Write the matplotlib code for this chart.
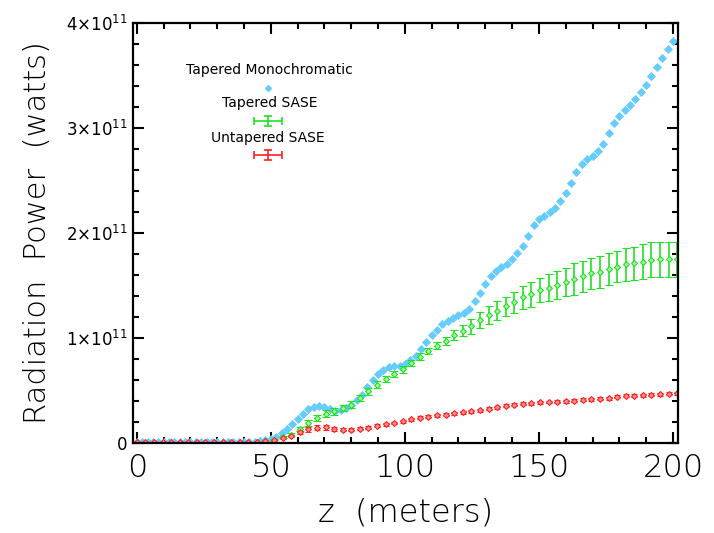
import numpy as np
import matplotlib
matplotlib.use("Agg")
from matplotlib import pyplot as plt
from matplotlib.ticker import MultipleLocator, FuncFormatter

# tapered, monochromatic seed: power every 2 m along the undulator (units of 1e11 W)
z_mono = np.arange(0, 201, 2)
p_mono = [0.005, 0.005, 0.005, 0.005, 0.005, 0.005, 0.005, 0.005, 0.005, 0.005,
          0.005, 0.005, 0.005, 0.005, 0.005, 0.005, 0.005, 0.005, 0.005, 0.005,
          0.006, 0.008, 0.010, 0.015, 0.025, 0.040, 0.060, 0.090, 0.130, 0.180,
          0.230, 0.280, 0.320, 0.345, 0.355, 0.345, 0.320, 0.305, 0.310, 0.335,
          0.365, 0.410, 0.460, 0.530, 0.600, 0.655, 0.695, 0.720, 0.730, 0.735,
          0.750, 0.785, 0.830, 0.890, 0.960, 1.030, 1.080, 1.130, 1.165, 1.190,
          1.215, 1.240, 1.280, 1.350, 1.430, 1.510, 1.590, 1.640, 1.675, 1.705,
          1.750, 1.810, 1.880, 1.970, 2.080, 2.130, 2.165, 2.200, 2.240, 2.300,
          2.380, 2.480, 2.580, 2.660, 2.700, 2.730, 2.780, 2.850, 2.950, 3.050,
          3.110, 3.170, 3.220, 3.280, 3.340, 3.410, 3.490, 3.580, 3.670, 3.750,
          3.830]

# SASE runs, sampled every 3.2 m (units of 1e11 W)
z_sase = np.arange(64) * 3.2
p_tap = [0.003, 0.003, 0.003, 0.003, 0.003, 0.003, 0.003, 0.003,
         0.003, 0.003, 0.003, 0.003, 0.004, 0.005, 0.008, 0.015,
         0.030, 0.055, 0.080, 0.130, 0.190, 0.240, 0.280, 0.300,
         0.330, 0.365, 0.425, 0.490, 0.555, 0.610, 0.655, 0.700,
         0.760, 0.820, 0.875, 0.925, 0.970, 1.025, 1.070, 1.110,
         1.170, 1.220, 1.260, 1.300, 1.340, 1.385, 1.415, 1.455,
         1.480, 1.505, 1.530, 1.560, 1.585, 1.615, 1.630, 1.660,
         1.680, 1.700, 1.710, 1.725, 1.745, 1.750, 1.750, 1.750]
err_tap = [0.002, 0.002, 0.002, 0.002, 0.002, 0.002, 0.002, 0.002,
           0.002, 0.002, 0.002, 0.002, 0.002, 0.003, 0.004, 0.005,
           0.006, 0.010, 0.015, 0.020, 0.025, 0.028, 0.030, 0.030,
           0.030, 0.030, 0.030, 0.030, 0.030, 0.030, 0.030, 0.030,
           0.032, 0.032, 0.032, 0.035, 0.035, 0.048, 0.056, 0.071,
           0.075, 0.086, 0.088, 0.092, 0.100, 0.114, 0.117, 0.117,
           0.126, 0.130, 0.135, 0.150, 0.150, 0.145, 0.150, 0.152,
           0.152, 0.155, 0.159, 0.165, 0.167, 0.168, 0.167, 0.167]
p_untap = [0.005, 0.005, 0.005, 0.005, 0.005, 0.005, 0.005, 0.005,
           0.005, 0.005, 0.005, 0.005, 0.005, 0.006, 0.010, 0.020,
           0.026, 0.045, 0.067, 0.100, 0.130, 0.143, 0.147, 0.130,
           0.124, 0.124, 0.133, 0.146, 0.162, 0.178, 0.190, 0.207,
           0.226, 0.238, 0.251, 0.264, 0.270, 0.283, 0.294, 0.303,
           0.313, 0.325, 0.338, 0.352, 0.362, 0.371, 0.378, 0.387,
           0.390, 0.394, 0.397, 0.404, 0.410, 0.416, 0.423, 0.426,
           0.438, 0.448, 0.448, 0.454, 0.457, 0.464, 0.470, 0.473]
err_untap = [0.002] * 16 + [0.005, 0.008, 0.012, 0.018, 0.022, 0.024, 0.024, 0.020,
                            0.015, 0.014, 0.014, 0.014, 0.014, 0.014, 0.014, 0.014,
                            0.014, 0.014, 0.014, 0.014, 0.014, 0.014, 0.014, 0.014,
                            0.014, 0.014, 0.014, 0.014, 0.014, 0.014, 0.014, 0.014,
                            0.014, 0.014, 0.014, 0.014, 0.014, 0.014, 0.014, 0.014,
                            0.014, 0.014, 0.014, 0.014, 0.014, 0.014, 0.014, 0.014]

scale = 1e11
cyan = "#66ccff"
green = "#22e022"
red = "#ff2020"

plt.rcParams["font.family"] = ["DejaVu Sans"]
fig = plt.figure(figsize=(7.14, 5.33), dpi=100)
ax = fig.add_axes([0.186, 0.169, 0.764, 0.788])

ax.plot(z_mono, np.array(p_mono) * scale, linestyle="none", marker="D",
        ms=3.8, mfc=cyan, mec=cyan, mew=0.6)
ax.errorbar(z_sase, np.array(p_tap) * scale, yerr=np.array(err_tap) * scale,
            fmt="D", ms=3, mfc="#aaf5aa", mec=green, mew=0.8, ecolor=green,
            elinewidth=1.2, capsize=3, capthick=1.2)
ax.errorbar(z_sase, np.array(p_untap) * scale, yerr=np.array(err_untap) * scale,
            fmt="D", ms=3, mfc="#ff9090", mec=red, mew=0.8, ecolor=red,
            elinewidth=1.2, capsize=2.5, capthick=1.2)

ax.set_xlim(-1.5, 202)
ax.set_ylim(0, 4e11)
ax.xaxis.set_major_locator(MultipleLocator(50))
ax.xaxis.set_minor_locator(MultipleLocator(10))
ax.yaxis.set_major_locator(MultipleLocator(1e11))
ax.yaxis.set_minor_locator(MultipleLocator(0.2e11))


def ylab(v, pos):
    n = int(round(v / 1e11))
    return "0" if n == 0 else f"{n}\u00d710$^{{11}}$"


ax.yaxis.set_major_formatter(FuncFormatter(ylab))
ax.tick_params(which="both", direction="in", top=True, right=True, width=1.5)
ax.tick_params(which="major", length=8)
ax.tick_params(which="minor", length=4)
ax.tick_params(axis="x", labelsize=23, pad=7)
ax.tick_params(axis="y", labelsize=12, pad=4)
for lab in ax.get_xticklabels():
    lab.set_fontweight("light")
for s in ax.spines.values():
    s.set_linewidth(1.6)

ax.set_xlabel("z  (meters)", fontsize=23, fontweight="light", labelpad=11)
ax.set_ylabel("Radiation  Power  (watts)", fontsize=22, fontweight="light",
              labelpad=10)

# key: label with its symbol underneath
ax.text(0.251, 0.888, "Tapered Monochromatic", transform=ax.transAxes,
        ha="center", va="center", fontsize=10)
ax.plot([0.248], [0.845], transform=ax.transAxes, marker="D", ms=3,
        color=cyan, linestyle="none")
ax.text(0.251, 0.810, "Tapered SASE", transform=ax.transAxes,
        ha="center", va="center", fontsize=10)
ax.errorbar([0.248], [0.767], xerr=0.0257, yerr=0.012, transform=ax.transAxes,
            fmt="none", ecolor=green, elinewidth=1.2, capsize=3, capthick=1.2)
ax.text(0.248, 0.726, "Untapered SASE", transform=ax.transAxes,
        ha="center", va="center", fontsize=10)
ax.errorbar([0.248], [0.686], xerr=0.0257, yerr=0.012, transform=ax.transAxes,
            fmt="none", ecolor=red, elinewidth=1.2, capsize=3, capthick=1.2)

fig.savefig("out.png", dpi=100)
